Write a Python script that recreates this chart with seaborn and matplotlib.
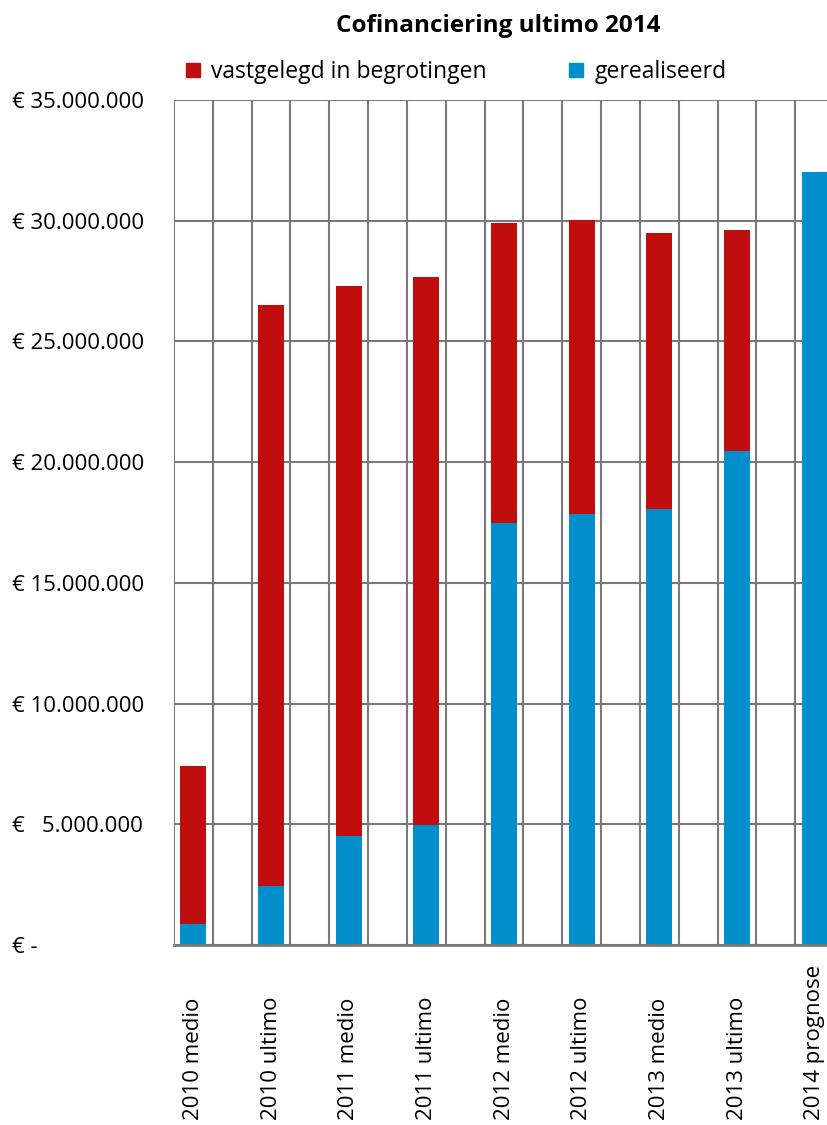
import numpy as np
import seaborn as sns
import matplotlib.pyplot as plt
from matplotlib.patches import Patch
import matplotlib.transforms as mtransforms

# data (euro)
categories = ["2010 medio", "2010 ultimo", "2011 medio", "2011 ultimo", "2012 medio",
              "2012 ultimo", "2013 medio", "2013 ultimo", "2014 prognose"]
gerealiseerd = [0.86e6, 2.45e6, 4.5e6, 4.97e6, 17.5e6, 17.84e6, 18.05e6, 20.48e6, 32.0e6]
vastgelegd = [6.55e6, 24.05e6, 22.8e6, 22.68e6, 12.4e6, 12.2e6, 11.45e6, 9.12e6, 0.0]
ytick_values = [0, 5e6, 10e6, 15e6, 20e6, 25e6, 30e6, 35e6]
ytick_labels = ["€ -", "€   5.000.000", "€ 10.000.000", "€ 15.000.000", "€ 20.000.000",
                "€ 25.000.000", "€ 30.000.000", "€ 35.000.000"]

red = "#C00E0F"
blue = "#008FCB"
grid_col = "#7A7A7A"

sns.set_theme(style="white")
plt.rcParams['font.family'] = ['Open Sans', 'DejaVu Sans']
plt.rcParams['text.color'] = 'black'
plt.rcParams['ytick.color'] = 'black'

totals = [g + v for g, v in zip(gerealiseerd, vastgelegd)]

fig = plt.figure(figsize=(8.27, 11.25), dpi=100)
ax = fig.add_axes([174 / 827, 180 / 1125, 699 / 827, 845 / 1125])

# stacked bars: red total first, blue realised part on top of it
sns.barplot(x=categories, y=totals, color=red, saturation=1, width=0.335,
            linewidth=0, ax=ax)
sns.barplot(x=categories, y=gerealiseerd, color=blue, saturation=1, width=0.335,
            linewidth=0, ax=ax)

ax.set_xlim(-0.25, 8.75)
ax.set_ylim(0, 35e6)
ax.set_axisbelow(True)

# grid: horizontal every 5 mln, vertical lines on both sides of each bar
ax.set_yticks(ytick_values)
ax.set_yticklabels(ytick_labels, fontsize=16, color="black")
for lbl in ax.get_yticklabels():
    lbl.set_ha("left")
ax.tick_params(axis="y", length=0, pad=116.5)
ax.set_xticks(np.arange(-0.25, 9, 0.5), minor=True)
ax.tick_params(axis="x", which="both", length=0, labelbottom=False)
ax.grid(axis="y", which="major", color=grid_col, linewidth=1.5)
ax.grid(axis="x", which="minor", color=grid_col, linewidth=1.5)
ax.grid(axis="x", which="major", visible=False)

for side in ["top", "right", "left"]:
    ax.spines[side].set_visible(False)
ax.spines["bottom"].set_color(grid_col)
ax.spines["bottom"].set_linewidth(2)
ax.set_xlabel("")
ax.set_ylabel("")

# category labels, rotated, aligned at their start
trans = mtransforms.blended_transform_factory(ax.transData, ax.transAxes)
for i, name in enumerate(categories):
    ax.text(i, -0.207, name, rotation=90, ha="center", va="bottom",
            fontsize=16, color="black", transform=trans, clip_on=False)

fig.text(498 / 827, 1 - 26 / 1125, "Cofinanciering ultimo 2014", ha="center",
         va="center", fontsize=17.5, fontweight="bold", color="black")

handles = [Patch(color=red), Patch(color=blue)]
fig.legend(handles, ["vastgelegd in begrotingen", "gerealiseerd"], ncol=2,
           loc="center left", bbox_to_anchor=(186 / 827, 1 - 72 / 1125),
           frameon=False, fontsize=16.5, handlelength=0.6, handleheight=0.6,
           handletextpad=0.5, columnspacing=3.6, borderpad=0, borderaxespad=0,
           labelcolor="black")

fig.savefig("out.png", dpi=100)
